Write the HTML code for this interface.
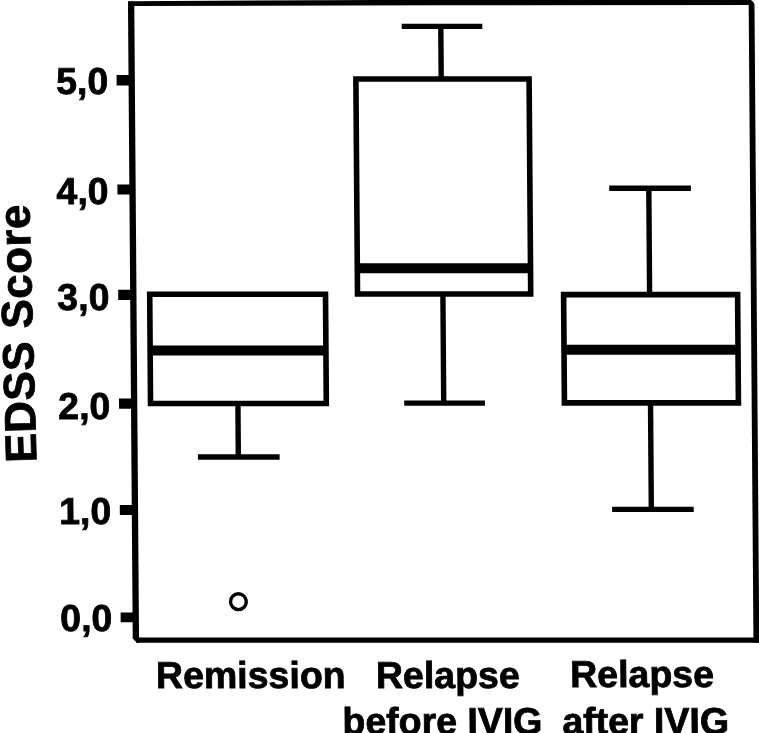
<!DOCTYPE html>
<html><head><meta charset="utf-8"><title>EDSS Score</title>
<style>
html,body{margin:0;padding:0;background:#fff;overflow:hidden}
svg{display:block;filter:grayscale(1)}
text{font-family:"Liberation Sans",Arial,sans-serif;font-weight:bold;fill:#000;stroke:#000;stroke-width:0.8px}
</style></head>
<body>
<svg width="759" height="733" viewBox="0 0 759 733">
<rect width="759" height="733" fill="#fff"/>
<g transform="matrix(1 0 0.0075 1 0 0)">
  <!-- frame -->
  <rect x="127.95" y="1.8" width="6.3" height="640.9" fill="#000"/>
  <rect x="748.65" y="0" width="5.8" height="642.7" fill="#000"/>
  <polygon points="128,1.2 440,-0.3 754,-0.5 754,5.0 440,5.3 128,6.1" fill="#000"/>
  <rect x="128" y="637.4" width="626" height="5.3" fill="#000"/>
  <!-- ticks -->
  <rect x="116" y="75.0" width="14" height="10.4" fill="#000"/>
  <rect x="116" y="184.4" width="14" height="10.1" fill="#000"/>
  <rect x="116" y="289.8" width="14" height="10.1" fill="#000"/>
  <rect x="116" y="398.4" width="14" height="10.4" fill="#000"/>
  <rect x="116" y="505.0" width="14" height="9.9" fill="#000"/>
  <rect x="116" y="612.6" width="14" height="9.7" fill="#000"/>
  <!-- tick labels -->
  <g font-size="37.5" text-anchor="end">
    <text x="107.6" y="94.3">5,0</text>
    <text x="107.2" y="204.1">4,0</text>
    <text x="107.2" y="309.6">3,0</text>
    <text x="107.3" y="418.7">2,0</text>
    <text x="107.4" y="524.3">1,0</text>
    <text x="107.7" y="631.5">0,0</text>
  </g>
  <!-- box 1: Remission -->
  <g fill="none" stroke="#000" stroke-width="5.6">
    <rect x="147.5" y="294.3" width="175.8" height="109.2"/>
    <rect x="355.3" y="79" width="173.2" height="215"/>
    <rect x="561.4" y="294.6" width="174" height="108.3"/>
  </g>
  <g stroke="#000" stroke-width="10" fill="none">
    <line x1="147.5" y1="350.4" x2="323.3" y2="350.4"/>
    <line x1="355.3" y1="268.2" x2="528.5" y2="268.2"/>
    <line x1="561.4" y1="349.8" x2="735.4" y2="349.8"/>
  </g>
  <g stroke="#000" stroke-width="5.4" fill="none">
    <!-- box1 lower whisker -->
    <line x1="234.9" y1="403.5" x2="234.9" y2="457"/>
    <line x1="194.5" y1="457" x2="276.2" y2="457"/>
    <!-- box2 upper -->
    <line x1="440.6" y1="26.35" x2="440.6" y2="79"/>
    <line x1="401.5" y1="26.35" x2="482.1" y2="26.35"/>
    <!-- box2 lower -->
    <line x1="440.7" y1="294" x2="440.7" y2="403.1"/>
    <line x1="401.2" y1="403.1" x2="481.9" y2="403.1"/>
    <!-- box3 upper -->
    <line x1="647.4" y1="188.3" x2="647.4" y2="294.6"/>
    <line x1="607.8" y1="188.3" x2="689.5" y2="188.3"/>
    <!-- box3 lower -->
    <line x1="647.5" y1="402.9" x2="647.5" y2="509.4"/>
    <line x1="608.3" y1="509.4" x2="689.9" y2="509.4"/>
  </g>
  <circle cx="233.9" cy="601.7" r="7.9" fill="none" stroke="#000" stroke-width="3.4"/>
  <!-- x labels -->
  <g font-size="37.5">
    <text x="150.9" y="688">Remission</text>
    <text x="370.8" y="688">Relapse</text>
    <text x="337" y="734">before IVIG</text>
    <text x="565.1" y="687.4">Relapse</text>
    <text x="556.9" y="734.5">after IVIG</text>
  </g>
</g>
<polygon points="750.9,-1 760,-1 760,5 754.7,4.2 754.2,3.5 752.5,1.2 750.9,0" fill="#fff"/>
<polygon points="131.5,637.3 136.2,642 136.2,644 131.5,644" fill="#fff"/>
<text font-size="44" letter-spacing="0.4" transform="translate(36.5,462.2) rotate(-91.6)">EDSS Score</text>
</svg>
</body></html>
